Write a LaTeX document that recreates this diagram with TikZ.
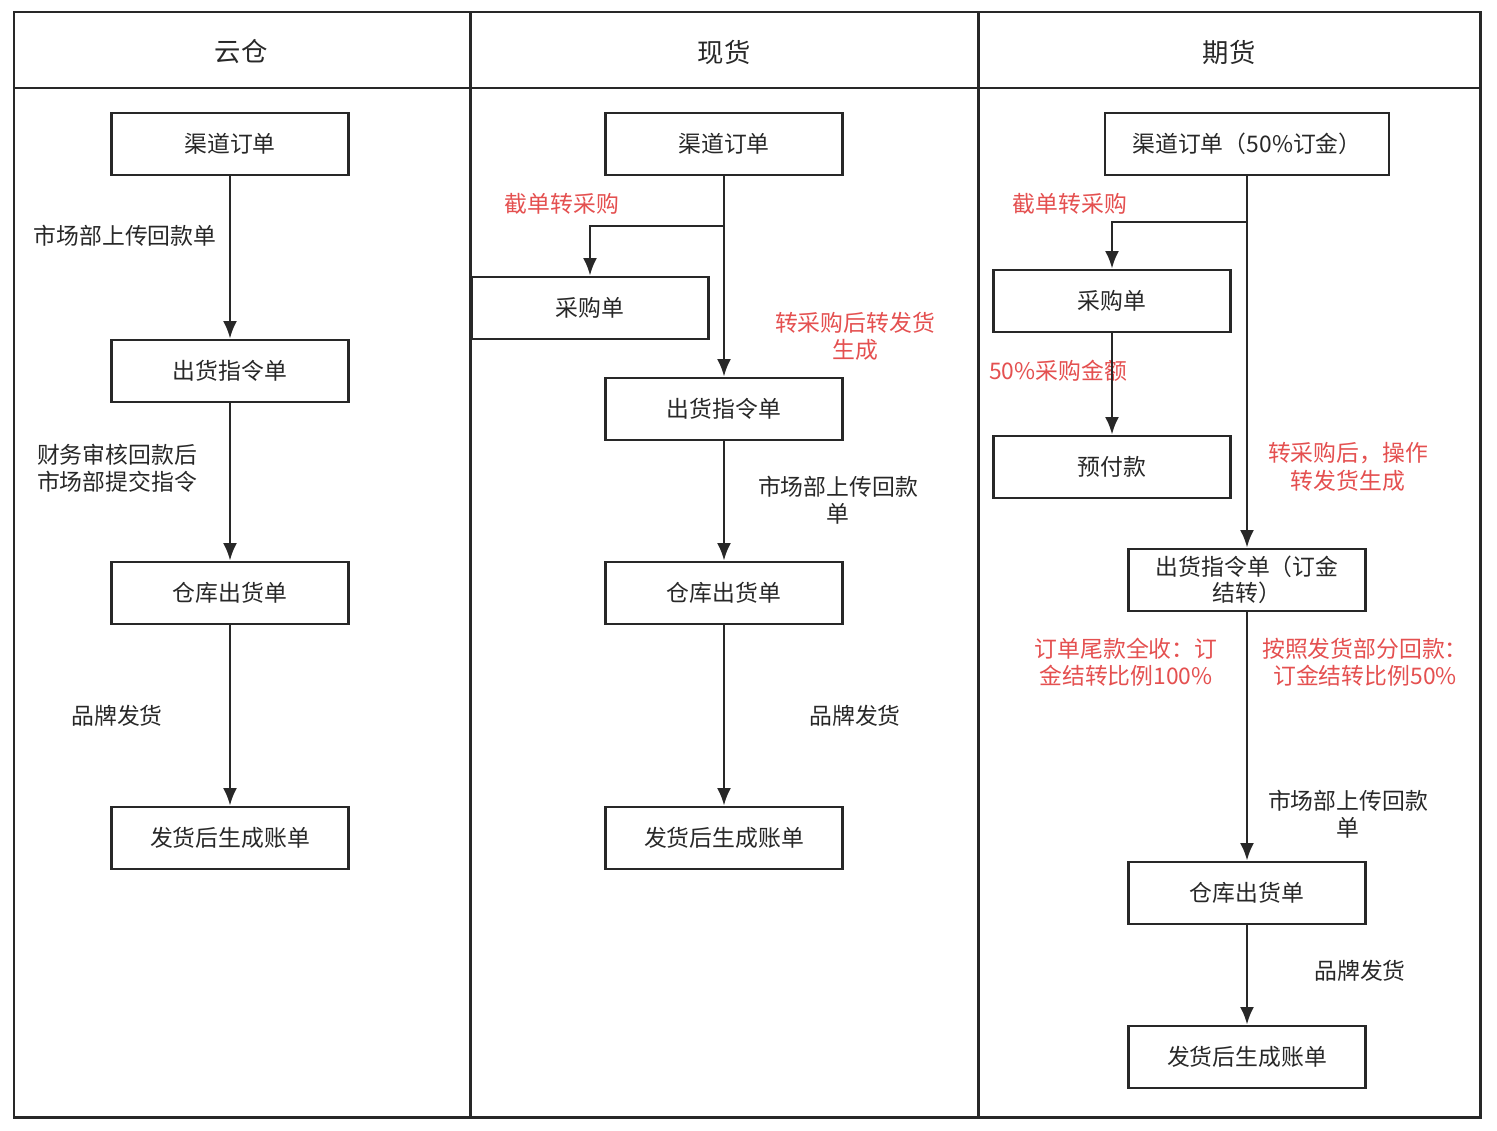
\documentclass[tikz,border=0pt]{standalone}
\usepackage{fontspec}
\setmainfont{Noto Sans CJK SC}
\usetikzlibrary{arrows.meta,positioning}
\definecolor{ink}{RGB}{40,40,40}
\definecolor{hot}{RGB}{228,80,80}
\tikzset{
  box/.style   = {draw=ink, line width=1.6pt, minimum width=4.74cm, minimum height=1.24cm,
                  inner sep=1pt, align=center, font=\fontsize{13pt}{16pt}\selectfont, text=ink},
  note/.style  = {align=center, font=\fontsize{13pt}{15.5pt}\selectfont, text=ink},
  rednote/.style = {note, text=hot},
  head/.style  = {font=\fontsize{15pt}{18pt}\selectfont, text=ink},
  flow/.style  = {->, draw=ink, line width=1.5pt}
}
\begin{document}
\begin{tikzpicture}[x=0.02cm, y=-0.02cm, >={Latex[length=10pt,width=8pt]}]
\useasboundingbox (0,0) rectangle (1497,1130);

% lanes
\draw[ink, line width=1.7pt] (14,12) rectangle (1480,1117);
\draw[ink, line width=1.7pt] (14,88) -- (1480,88);
\draw[ink, line width=1.7pt] (470,12) -- (470,1117);
\draw[ink, line width=1.7pt] (978,12) -- (978,1117);
\node[head] (h1) at (241,52) {云仓};
\node[head] (h2) at (724,52) {现货};
\node[head] (h3) at (1229,52) {期货};

% 云仓
\node[box] (a1) at (230,144) {渠道订单};
\node[box] (a2) at (230,371) {出货指令单};
\node[box] (a3) at (230,593) {仓库出货单};
\node[box] (a4) at (230,838) {发货后生成账单};
\node[note] (la1) at (125,236) {市场部上传回款单};
\node[note, align=left] (la2) at (117,468) {财务审核回款后\\市场部提交指令};
\node[note] (la3) at (117,716) {品牌发货};

% 现货
\node[box] (b1) at (724,144) {渠道订单};
\node[box] (bp) at (590,308) {采购单};
\node[box] (b2) at (724,409) {出货指令单};
\node[box] (b3) at (724,593) {仓库出货单};
\node[box] (b4) at (724,838) {发货后生成账单};
\coordinate (bk) at (724,226);
\node[rednote] (lb1) at (562,204) {截单转采购};
\node[rednote] (lb2) at (855,336) {转采购后转发货\\生成};
\node[note] (lb3) at (838,500) {市场部上传回款\\单};
\node[note] (lb4) at (855,716) {品牌发货};

% 期货
\node[box, minimum width=5.68cm] (c1) at (1247,144) {渠道订单（50\%订金）};
\node[box] (cp) at (1112,301) {采购单};
\node[box] (cy) at (1112,467) {预付款};
\node[box, font=\fontsize{13pt}{15pt}\selectfont] (c2) at (1247,580) {出货指令单（订金\\结转）};
\node[box] (c3) at (1247,893) {仓库出货单};
\node[box] (c4) at (1247,1057) {发货后生成账单};
\coordinate (ck) at (1247,222);
\node[rednote] (lc1) at (1070,204) {截单转采购};
\node[rednote] (lc2) at (1058,371) {50\%采购金额};
\node[rednote] (lc3) at (1348,467) {转采购后，操作\\转发货生成};
\node[rednote] (lc4) at (1126,662) {订单尾款全收：订\\金结转比例100\%};
\node[rednote] (lc5) at (1365,662) {按照发货部分回款：\\订金结转比例50\%};
\node[note] (lc6) at (1348,814) {市场部上传回款\\单};
\node[note] (lc7) at (1360,971) {品牌发货};

\foreach \i/\j in {1/2,2/3,3/4}
  \draw[flow] (a\i) -- (a\j);
\draw[flow] (b1) -- (b2);
\draw[flow] (bk) -| (bp.north);
\foreach \i/\j in {2/3,3/4}
  \draw[flow] (b\i) -- (b\j);
\draw[flow] (c1.south -| ck) -- (c2);
\draw[flow] (ck) -| (cp.north);
\draw[flow] (cp) -- (cy);
\foreach \i/\j in {2/3,3/4}
  \draw[flow] (c\i) -- (c\j);
\end{tikzpicture}
\end{document}
